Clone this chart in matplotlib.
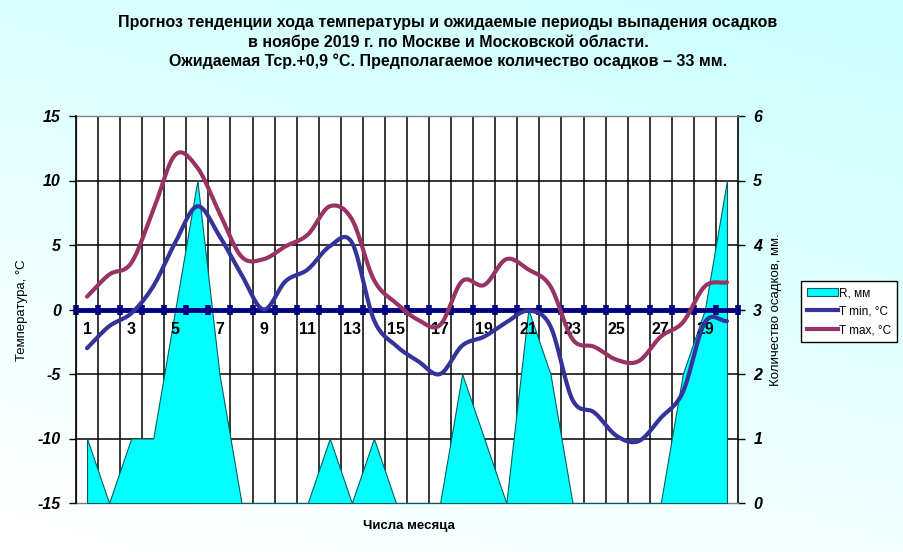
import numpy as np
import matplotlib
matplotlib.use("Agg")
import matplotlib.pyplot as plt
from matplotlib import font_manager
from matplotlib.patches import Patch
from matplotlib.lines import Line2D

# ---------------- data ----------------
days = list(range(1, 31))
rain_mm = [1, 0, 1, 1, 3, 5, 2, 0, 0, 0, 0, 1, 0, 1, 0,
           0, 0, 2, 1, 0, 3, 2, 0, 0, 0, 0, 0, 2, 3, 5]
t_min = [-3.0, -1.3, -0.3, 1.8, 5.2, 8.0, 5.7, 2.7, 0.0, 2.2,
         3.1, 4.9, 5.2, -0.8, -2.8, -4.0, -5.0, -2.8, -2.1, -1.0,
         -0.1, -1.3, -7.0, -8.0, -9.8, -10.2, -8.4, -6.4, -1.0, -0.9]
t_max = [1.0, 2.7, 3.6, 7.7, 12.0, 11.0, 7.5, 4.1, 3.9, 4.9,
         5.8, 8.0, 7.0, 2.3, 0.5, -0.8, -1.2, 2.2, 1.9, 3.9,
         3.1, 1.8, -2.3, -2.9, -3.9, -4.0, -2.1, -1.0, 1.8, 2.1]
xtick_labels = [str(d) for d in range(1, 31, 2)]
title_lines = ["Прогноз тенденции хода температуры и ожидаемые периоды выпадения осадков",
               "в ноябре 2019 г. по Москве и Московской области.",
               "Ожидаемая Тср.+0,9 °С. Предполагаемое количество осадков – 33 мм."]

# ---------------- fonts ----------------
names = {f.name for f in font_manager.fontManager.ttflist}
narrow = "Liberation Sans Narrow" if "Liberation Sans Narrow" in names else "Liberation Sans"
base = "Liberation Sans" if "Liberation Sans" in names else "DejaVu Sans"
plt.rcParams["font.family"] = [base, "DejaVu Sans"]


def smooth(x, y, n=16):
    """Catmull-Rom style smoothing, like Excel 'smoothed line' rendering."""
    x = np.asarray(x, float)
    y = np.asarray(y, float)
    px = np.concatenate([[2 * x[0] - x[1]], x, [2 * x[-1] - x[-2]]])
    py = np.concatenate([[2 * y[0] - y[1]], y, [2 * y[-1] - y[-2]]])
    xs, ys = [], []
    for i in range(1, len(px) - 2):
        t = np.linspace(0, 1, n, endpoint=False)
        for arr, out in ((px, xs), (py, ys)):
            p0, p1, p2, p3 = arr[i - 1], arr[i], arr[i + 1], arr[i + 2]
            out.extend(0.5 * ((2 * p1) + (-p0 + p2) * t +
                              (2 * p0 - 5 * p1 + 4 * p2 - p3) * t ** 2 +
                              (-p0 + 3 * p1 - 3 * p2 + p3) * t ** 3))
    xs.append(x[-1])
    ys.append(y[-1])
    return np.array(xs), np.array(ys)


W, H = 904, 552
fig = plt.figure(figsize=(W / 100, H / 100), dpi=100)

# background gradient
bg = fig.add_axes([0, 0, 1, 1], zorder=-10)
gx, gy = np.meshgrid(np.linspace(0, 1, 200), np.linspace(0, 1, 200))
t = np.clip(0.75 * gy + 0.35 * gx - 0.05, 0, 1)  # gy=1 top
c_top = np.array([0.80, 1.0, 1.0])
c_bot = np.array([1.0, 1.0, 1.0])
img = c_bot[None, None, :] * (1 - t[..., None]) + c_top[None, None, :] * t[..., None]
bg.imshow(img, origin="lower", extent=[0, 1, 0, 1], aspect="auto")
bg.axis("off")

left, right, top, bottom = 76, 738, 116, 503
rect = [left / W, 1 - bottom / H, (right - left) / W, (bottom - top) / H]

# precipitation axes (bottom layer, carries grid)
ax2 = fig.add_axes(rect, zorder=1)
ax2.set_facecolor("white")
ax2.set_xlim(0.5, 30.5)
ax2.set_ylim(0, 6)
ax2.fill_between(days, rain_mm, 0, facecolor="#00FFFF", edgecolor="#006060",
                 linewidth=0.8, zorder=3)
for xb in np.arange(1.5, 30.5, 1):
    ax2.axvline(xb, color="black", lw=1.1, zorder=1)
for yb in [1, 2, 4, 5]:
    ax2.axhline(yb, color="black", lw=1.1, zorder=1)
ax2.yaxis.tick_right()
ax2.yaxis.set_label_position("right")
ax2.set_yticks(range(0, 7))
ax2.set_yticklabels([str(v) for v in range(0, 7)], fontsize=11.5,
                    fontweight="bold", fontstyle="italic")
ax2.tick_params(axis="y", direction="out", length=5, width=1, pad=6, colors="black")
ax2.set_xticks([])
for s in ["left", "top", "bottom"]:
    ax2.spines[s].set_color("#808080")
    ax2.spines[s].set_linewidth(1)
ax2.spines["right"].set_color("black")
ax2.spines["right"].set_linewidth(1.2)

# temperature axes (top layer)
ax = fig.add_axes(rect, zorder=2)
ax.patch.set_visible(False)
ax.set_xlim(0.5, 30.5)
ax.set_ylim(-15, 15)
sx, sy = smooth(days, t_min)
ax.plot(sx, sy, color="#333399", lw=3.0, solid_capstyle="round", zorder=4)
sx, sy = smooth(days, t_max)
ax.plot(sx, sy, color="#993366", lw=3.0, solid_capstyle="round", zorder=4)

ax.set_yticks(range(-15, 16, 5))
ax.set_yticklabels([str(v) for v in range(-15, 16, 5)], fontsize=11.5,
                   fontweight="bold", fontstyle="italic")
ax.tick_params(axis="y", direction="out", length=5, width=1, pad=6)
for s in ["top", "right"]:
    ax.spines[s].set_visible(False)
ax.spines["left"].set_color("black")
ax.spines["left"].set_linewidth(1.2)
ax.spines["bottom"].set_position(("data", 0))
ax.spines["bottom"].set_color("#000080")
ax.spines["bottom"].set_linewidth(3.5)
ax.spines["bottom"].set_zorder(3)
ax.set_xticks(np.arange(0.5, 31, 1))
ax.set_xticklabels([])
ax.tick_params(axis="x", which="major", direction="inout", length=7, width=4,
               color="#000080")
ax.set_xticks(list(range(1, 31, 2)), minor=True)
ax.set_xticklabels(xtick_labels, minor=True, fontsize=11.5, fontweight="bold")
ax.tick_params(axis="x", which="minor", length=0, pad=9)

# labels
fig.text(22 / W, 1 - 310 / H, "Температура, °C", rotation=90, ha="center",
         va="center", fontsize=9.5)
fig.text(776 / W, 1 - 310 / H, "Количество осадков, мм.", rotation=90,
         ha="center", va="center", fontsize=9.5)
fig.text(409 / W, 1 - 526 / H, "Числа месяца", ha="center", va="center",
         fontsize=9.5, fontweight="bold")
for i, (line, yy) in enumerate(zip(title_lines, [22, 42, 61])):
    fig.text(448 / W, 1 - yy / H, line, ha="center", va="center",
             fontsize=11.5, fontweight="bold", family=[narrow, "DejaVu Sans"])

handles = [Patch(facecolor="#00FFFF", edgecolor="#006060", linewidth=0.8),
           Line2D([0], [0], color="#333399", lw=3),
           Line2D([0], [0], color="#993366", lw=3)]
leg = fig.legend(handles, ["R, мм", "T min, °C", "T max, °C"],
                 loc="lower left", bbox_to_anchor=(801 / W, 1 - 342 / H),
                 fontsize=8.5, frameon=True, fancybox=False, framealpha=1,
                 edgecolor="black", handlelength=2.6, handletextpad=0.1,
                 borderpad=0.5, labelspacing=0.55, borderaxespad=0)
leg.get_frame().set_linewidth(1)

fig.savefig("out.png", dpi=100)
